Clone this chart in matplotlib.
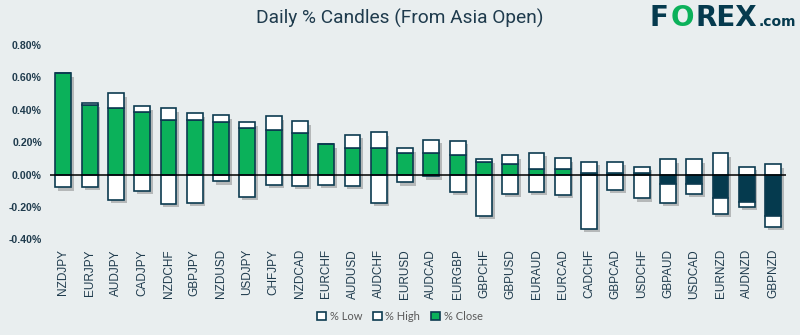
import matplotlib
matplotlib.use("Agg")
import matplotlib.pyplot as plt
import matplotlib.patheffects as pe
from matplotlib.patches import Patch
import numpy as np

pairs = ["NZDJPY", "EURJPY", "AUDJPY", "CADJPY", "NZDCHF", "GBPJPY", "NZDUSD",
         "USDJPY", "CHFJPY", "NZDCAD", "EURCHF", "AUDUSD", "AUDCHF", "EURUSD",
         "AUDCAD", "EURGBP", "GBPCHF", "GBPUSD", "EURAUD", "EURCAD", "CADCHF",
         "GBPCAD", "USDCHF", "GBPAUD", "USDCAD", "EURNZD", "AUDNZD", "GBPNZD"]
pct_high = [0.625, 0.441, 0.501, 0.421, 0.408, 0.377, 0.365, 0.322, 0.359, 0.328,
            0.186, 0.247, 0.260, 0.161, 0.216, 0.210, 0.093, 0.118, 0.136, 0.099,
            0.080, 0.080, 0.049, 0.093, 0.093, 0.130, 0.049, 0.062]
pct_close = [0.625, 0.427, 0.408, 0.384, 0.334, 0.334, 0.322, 0.285, 0.278, 0.258,
             0.186, 0.161, 0.161, 0.136, 0.130, 0.118, 0.080, 0.068, 0.037, 0.037,
             0.012, 0.012, 0.012, -0.058, -0.058, -0.144, -0.169, -0.256]
pct_low = [-0.080, -0.074, -0.155, -0.099, -0.179, -0.173, -0.043, -0.136, -0.062, -0.068,
           -0.062, -0.068, -0.173, -0.049, -0.012, -0.105, -0.254, -0.118, -0.105, -0.124,
           -0.334, -0.093, -0.148, -0.173, -0.118, -0.241, -0.198, -0.322]
y_ticks = [-0.4, -0.2, 0.0, 0.2, 0.4, 0.6, 0.8]

BG = "#E9EEEF"
GREEN = "#0BB15A"
DARK = "#053A4E"
EDGE = "#0C3B50"
TXT = "#1F3B4D"

fig = plt.figure(figsize=(8, 3.35), dpi=100, facecolor=BG)
ax = fig.add_axes([0.0628, 0.2857, 0.920, 0.58])
ax.set_facecolor(BG)

x = np.arange(len(pairs))
w = 0.6
high = np.array(pct_high)
close = np.array(pct_close)
low = np.array(pct_low)

# shadow bars
shadow = ax.bar(x, high - low, bottom=low, width=w, color="white", edgecolor="none", zorder=1)
for p in shadow:
    p.set_path_effects([pe.SimplePatchShadow(offset=(2, -2.5), shadow_rgbFace="#555555", alpha=0.35),
                        pe.Normal()])

kw = dict(width=w, edgecolor=EDGE, linewidth=1.2, zorder=2)
pos = close >= 0
ax.bar(x[pos], close[pos], bottom=0, color=GREEN, **kw)
ax.bar(x[pos], high[pos] - close[pos], bottom=close[pos], color="white", **kw)
ax.bar(x[pos], low[pos], bottom=0, color="white", **kw)
neg = ~pos
ax.bar(x[neg], close[neg], bottom=0, color=DARK, **kw)
ax.bar(x[neg], low[neg] - close[neg], bottom=close[neg], color="white", **kw)
ax.bar(x[neg], high[neg], bottom=0, color="white", **kw)

ax.axhline(0, color="black", linewidth=1.1, zorder=3)

ax.set_xlim(-0.5, len(pairs) - 0.5)
ax.set_ylim(-0.4, 0.8)
ax.set_yticks(y_ticks)
ax.set_yticklabels([f"{v:.2f}%" for v in y_ticks], fontfamily="Liberation Sans",
                   fontweight="bold", fontsize=7.6, color=TXT)
ax.set_xticks(x)
ax.set_xticklabels(pairs, rotation=90, fontfamily="Liberation Sans", fontsize=8.5, color=TXT)
ax.tick_params(axis="both", length=0)
ax.tick_params(axis="y", pad=6)
ax.tick_params(axis="x", pad=7)
for s in ax.spines.values():
    s.set_visible(False)

fig.text(0.5, 0.945, "Daily % Candles (From Asia Open)", ha="center", va="center",
         fontfamily="Roboto", fontsize=13.8, color=TXT)

# logo: chain pieces left to right
renderer = fig.canvas.get_renderer()
xpix = 650.0
ypos = 0.945
pieces = [("F", DARK, 20), ("O", GREEN, 20), ("REX", DARK, 20), (".com", DARK, 10)]
gaps = [1.5, 1.5, 2.0, 0]
for (s, c, fs), g in zip(pieces, gaps):
    t = fig.text(xpix / 800.0, ypos if fs > 12 else ypos - 0.012, s, ha="left", va="center",
                 fontfamily="DejaVu Sans", fontweight="bold", fontsize=fs, color=c)
    bb = t.get_window_extent(renderer)
    xpix = bb.x1 + g

handles = [Patch(facecolor="white", edgecolor=EDGE, linewidth=1.2, label="% Low"),
           Patch(facecolor="white", edgecolor=EDGE, linewidth=1.2, label="% High"),
           Patch(facecolor=GREEN, edgecolor=EDGE, linewidth=1.2, label="% Close")]
fig.legend(handles=handles, loc="center", bbox_to_anchor=(0.5, 0.055), ncol=3,
           frameon=False, prop={"family": "Lato", "size": 8}, labelcolor="#595959",
           handlelength=0.8, handleheight=0.8, handletextpad=0.3, columnspacing=1.0)

fig.savefig("out.png", dpi=100, facecolor=BG)
